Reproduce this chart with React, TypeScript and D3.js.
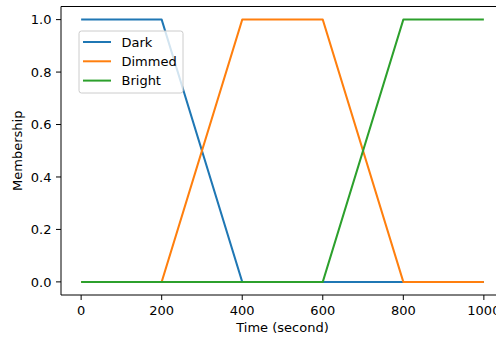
import { useRef, useEffect } from "react";
import * as d3 from "d3";

// breakpoints of the three trapezoid membership functions
const darkX = [0, 200, 400, 1000];
const darkY = [1, 1, 0, 0];
const dimmedX = [0, 200, 400, 600, 800, 1000];
const dimmedY = [0, 0, 1, 1, 0, 0];
const brightX = [0, 600, 800, 1000];
const brightY = [0, 0, 1, 1];

const seriesNames = ["Dark", "Dimmed", "Bright"];
const seriesColors = ["#1f77b4", "#ff7f0e", "#2ca02c"];
const xTicks = [0, 200, 400, 600, 800, 1000];
const yTicks = [0, 0.2, 0.4, 0.6, 0.8, 1.0];

const width = 496;
const height = 338;
const font = "DejaVu Sans, sans-serif";
const fs = 13;

export default function App() {
  const ref = useRef<SVGSVGElement>(null);

  useEffect(() => {
    const svg = d3.select(ref.current);
    svg.selectAll("*").remove();

    const left = 61;
    const right = 504;
    const top = 6.5;
    const bottom = 295;

    const x = d3.scaleLinear().domain([-50, 1050]).range([left, right]);
    const y = d3.scaleLinear().domain([-0.05, 1.05]).range([bottom, top]);

    const series = [
      darkX.map((v, i) => [v, darkY[i]]),
      dimmedX.map((v, i) => [v, dimmedY[i]]),
      brightX.map((v, i) => [v, brightY[i]]),
    ];

    const line = d3
      .line<number[]>()
      .x((d) => x(d[0]))
      .y((d) => y(d[1]));

    svg
      .append("rect")
      .attr("width", width)
      .attr("height", height)
      .attr("fill", "#fff");

    svg
      .selectAll("path.series")
      .data(series)
      .join("path")
      .attr("class", "series")
      .attr("d", line)
      .attr("fill", "none")
      .attr("stroke", (_, i) => seriesColors[i])
      .attr("stroke-width", 2)
      .attr("stroke-linejoin", "round");

    // spines
    const spine = svg.append("g").attr("stroke", "#000").attr("stroke-width", 1);
    spine.append("line").attr("x1", left).attr("x2", left).attr("y1", top).attr("y2", bottom);
    spine.append("line").attr("x1", left).attr("x2", right).attr("y1", bottom).attr("y2", bottom);
    spine.append("line").attr("x1", left).attr("x2", right).attr("y1", top).attr("y2", top);
    spine.append("line").attr("x1", right).attr("x2", right).attr("y1", top).attr("y2", bottom);

    // x ticks
    const xt = svg.append("g").selectAll("g").data(xTicks).join("g")
      .attr("transform", (d) => `translate(${x(d)},${bottom})`);
    xt.append("line").attr("y2", 5).attr("stroke", "#000");
    xt.append("text")
      .attr("y", 20)
      .attr("text-anchor", "middle")
      .attr("font-family", font)
      .attr("font-size", fs)
      .attr("fill", "#000")
      .text((d) => d);

    // y ticks
    const yt = svg.append("g").selectAll("g").data(yTicks).join("g")
      .attr("transform", (d) => `translate(${left},${y(d)})`);
    yt.append("line").attr("x2", -5).attr("stroke", "#000");
    yt.append("text")
      .attr("x", -9.5)
      .attr("dy", "0.36em")
      .attr("text-anchor", "end")
      .attr("font-family", font)
      .attr("font-size", fs)
      .attr("fill", "#000")
      .text((d) => d.toFixed(1));

    svg.append("text")
      .attr("x", (left + right) / 2)
      .attr("y", 332)
      .attr("text-anchor", "middle")
      .attr("font-family", font)
      .attr("font-size", fs)
      .text("Time (second)");

    svg.append("text")
      .attr("transform", `translate(22,${(top + bottom) / 2}) rotate(-90)`)
      .attr("text-anchor", "middle")
      .attr("font-family", font)
      .attr("font-size", fs)
      .text("Membership");

    // legend
    const lg = svg.append("g").attr("transform", "translate(79,31)");
    lg.append("rect")
      .attr("width", 104)
      .attr("height", 62)
      .attr("rx", 2.5)
      .attr("fill", "#fff")
      .attr("fill-opacity", 0.8)
      .attr("stroke", "#ccc")
      .attr("stroke-width", 1);
    const items = lg.selectAll("g").data(seriesNames).join("g")
      .attr("transform", (_, i) => `translate(0,${11 + i * 19.3})`);
    items.append("line")
      .attr("x1", 4)
      .attr("x2", 32)
      .attr("stroke", (_, i) => seriesColors[i])
      .attr("stroke-width", 2);
    items.append("text")
      .attr("x", 42.5)
      .attr("dy", "0.36em")
      .attr("font-family", font)
      .attr("font-size", fs)
      .attr("fill", "#000")
      .text((d) => d);
  }, []);

  return (
    <svg
      ref={ref}
      width={width}
      height={height}
      style={{ position: "absolute", left: 0, top: 0 }}
    ></svg>
  );
}
